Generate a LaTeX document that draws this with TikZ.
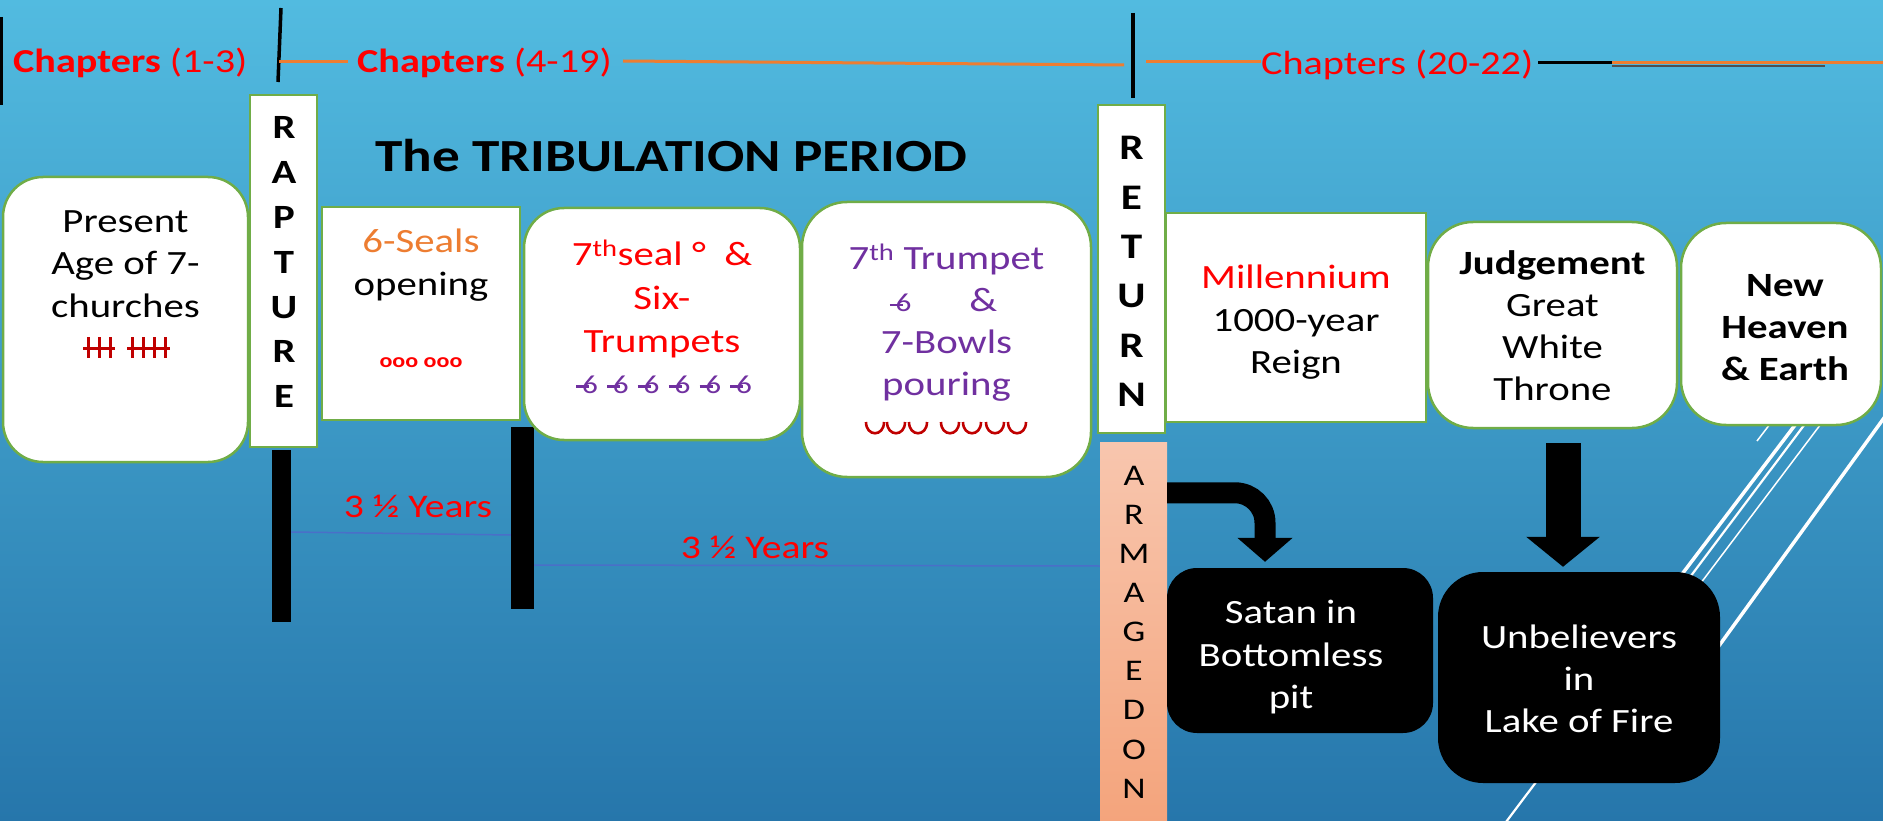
\documentclass[tikz,border=0pt]{standalone}
\usepackage{fontspec}
\setmainfont{Carlito}[FakeStretch=1.2]
\usetikzlibrary{arrows.meta}
\definecolor{bgtop}{HTML}{52BBE0}
\definecolor{bgmid}{HTML}{3A9DCA}
\definecolor{bgbot}{HTML}{2676AB}
\definecolor{boxgreen}{HTML}{70AD47}
\definecolor{myred}{HTML}{FF0000}
\definecolor{darkred}{HTML}{C00000}
\definecolor{myorange}{HTML}{ED7D31}
\definecolor{mypurple}{HTML}{7030A0}
\definecolor{salmontop}{HTML}{F8C6AE}
\definecolor{salmonbot}{HTML}{F4A47C}
\definecolor{thinblue}{HTML}{4A6FC8}
\definecolor{greyline}{HTML}{505050}
\newcommand{\fsz}[2]{\fontsize{#1pt}{#2pt}\selectfont}
\newcommand{\trp}{\rlap{\kern-0.22em\rule[0.2em]{0.5em}{0.09em}}6}
\begin{document}
\begin{tikzpicture}[x=1pt,y=-1pt,
 box/.style={draw=boxgreen,line width=2.5pt,fill=white,inner sep=0pt},
 rbox/.style={box,rounded corners=#1},
 blk/.style={fill=black,inner sep=0pt,rounded corners=#1},
 txt/.style={align=center,inner sep=0pt,execute at begin node=\strut,execute at end node=\strut},
 lbl/.style={inner sep=0pt},
 barnode/.style={fill=black,inner sep=0pt},
 orl/.style={draw=myorange,line width=3pt},
 vline/.style={draw=black,line width=3.5pt},
 bluethin/.style={draw=thinblue,line width=1.5pt},
 wl/.style={draw=white,line width=#1},
 bigarrow/.style={draw=black,line width=#1},
 tally/.style={draw=darkred,line width=3pt},
]
\shade[top color=bgtop,middle color=bgmid,bottom color=bgbot] (0,0) rectangle (1883,821);
\useasboundingbox (0,0) rectangle (1883,821);

% decorative white diagonals
\draw[wl=1.5pt] (1770,424) -- (1757,441);
\draw[wl=3.5pt] (1814,400) -- (1670,590);
\draw[wl=2.2pt] (1823,400) -- (1500,830);
\draw[wl=1.5pt] (1839,400) -- (1688,600);
\draw[wl=3.5pt] (1897,400) -- (1687,690);

% black bars
\node[barnode,minimum width=19pt,minimum height=172pt] (bar1) at (281.5,536) {};
\node[barnode,minimum width=23pt,minimum height=182pt] (bar2) at (522.5,518) {};
\draw[bluethin] ([yshift=4pt]bar1.east) -- ([yshift=-17pt]bar2.west);

% top timeline
\coordinate (t1a) at (1.5,17); \coordinate (t1b) at (1.5,105);
\coordinate (t2a) at (281,8); \coordinate (t2b) at (278,82);
\coordinate (t3a) at (1133,13); \coordinate (t3b) at (1133,98);
\draw[vline,line width=3pt] (t1a) -- (t1b);
\draw[vline] (t2a) -- (t2b);
\draw[vline] (t3a) -- (t3b);
\node[lbl,anchor=base west,font=\fsz{33.5}{38},text=myred] (ch1) at (13,73) {\textbf{Chapters} (1-3)};
\node[lbl,anchor=base west,font=\fsz{33.5}{38},text=myred] (ch2) at (357,73) {\textbf{Chapters} (4-19)};
\node[lbl,anchor=base west,font=\fsz{33.5}{38},text=myred] (ch3) at (1261,75) {Chapters (20-22)};
\coordinate (o1a) at (279,62); \coordinate (o1b) at (348,62);
\coordinate (o2a) at (623,61); \coordinate (o2b) at (1124,65);
\coordinate (o3a) at (1146,62);
\coordinate (o4a) at (1538,63); \coordinate (o4b) at (1612,63);
\coordinate (o5b) at (1825,66.5); \coordinate (o6b) at (1883,62.5);
\draw[orl] (o1a) -- (o1b);
\draw[orl] (o2a) -- (o2b);
\draw[orl] (o3a) -- (ch3.west |- o3a);
\draw[draw=greyline,line width=2pt] (o4b |- o5b) -- (o5b);
\draw[orl] (o4b |- o6b) -- (o6b);
\draw[draw=black,line width=3pt] (o4a) -- (o4b);

% title
\node[lbl,anchor=base west,font=\bfseries\fsz{46}{50}] (title) at (375,172) {The TRIBULATION PERIOD};

% boxes
\node[rbox=40pt,minimum width=245pt,minimum height=285pt] (present) at (125.5,319.5) {};
\node[box,minimum width=67pt,minimum height=352pt] (rapture) at (283.5,271) {};
\node[box,minimum width=198pt,minimum height=213pt] (seals) at (421,313.5) {};
\node[rbox=40pt,minimum width=276pt,minimum height=232pt] (seal7) at (662,324) {};
\node[rbox=45pt,minimum width=289pt,minimum height=275pt] (trump7) at (946.5,339.5) {};
\node[box,minimum width=67pt,minimum height=328pt] (ret) at (1131.5,269) {};
\node[box,minimum width=260pt,minimum height=209pt] (mill) at (1296,317.5) {};
\node[rbox=45pt,minimum width=249pt,minimum height=206pt] (judge) at (1552.5,325) {};
\node[rbox=45pt,minimum width=200pt,minimum height=202pt] (newh) at (1781,324) {};
\node[top color=salmontop,bottom color=salmonbot,inner sep=0pt,minimum width=67pt,minimum height=379pt] (arm) at (1133.5,631.5) {};
\node[blk=30pt,minimum width=266pt,minimum height=165pt] (satan) at (1300,650.5) {};
\node[blk=45pt,minimum width=282pt,minimum height=211pt] (unb) at (1579,677.5) {};

\draw[bluethin] ([yshift=-47pt]bar2.east) -- ([yshift=65.5pt]arm.west);

% years
\node[lbl,anchor=base,font=\fsz{33}{38},text=myred] (yrs1) at (418,517) {3 ½ Years};
\node[lbl,anchor=base,font=\fsz{33}{38},text=myred] (yrs2) at (755,558) {3 ½ Years};

% texts
\node[txt,font=\fsz{34}{42.5}] (presentT) at (125.5,270) {Present\\Age of 7-\\churches};
\draw[tally] (83,348) -- (115,348);
\foreach \x in {88,99,110} \draw[tally] (\x,337) -- (\x,358);
\draw[tally] (127,348) -- (170,348);
\foreach \x in {132,143,154,165} \draw[tally] (\x,337) -- (\x,358);

\node[txt,font=\bfseries\fsz{34}{44.8}] (rapT) at (284,269) {R\\A\\P\\T\\U\\R\\E};
\node[txt,font=\fsz{34}{43}] (sealsT) at (421,269) {\textcolor{myorange}{6-Seals}\\opening};
\node[lbl,anchor=base,font=\bfseries\fsz{20}{24},text=myred] (oooT) at (421,367) {ooo ooo};

\node[txt,font=\fsz{34}{43.5},text=myred] (seal7T) at (662,303) {7\textsuperscript{th}seal ° \ \&\\Six-\\Trumpets};
\node[lbl,anchor=base,font=\fsz{26}{30},text=mypurple] (trpT) at (667,393) {\trp\hspace{15pt}\trp\hspace{15pt}\trp\hspace{15pt}\trp\hspace{15pt}\trp\hspace{15pt}\trp};

\node[txt,font=\fsz{34}{42},text=mypurple] (trump7T) at (946.5,326) {7\textsuperscript{th} Trumpet\\{\fsz{26}{42}\trp}\hspace{58pt}\&\\7-Bowls\\pouring};
\foreach \c in {875,896,918,950,972,995,1017}
  \draw[tally,line width=2.6pt] (\c-9,422) .. controls (\c-9,437) and (\c+9,437) .. (\c+9,422);

\node[txt,font=\bfseries\fsz{36}{49.4}] (retT) at (1131.5,279) {R\\E\\T\\U\\R\\N};
\node[txt,font=\fsz{34}{42.5}] (millT) at (1296,326) {\textcolor{myred}{Millennium}\\1000-year\\Reign};
\node[txt,font=\fsz{34}{42}] (judgeT) at (1552.5,332) {\textbf{Judgement}\\Great\\White\\Throne};
\node[txt,font=\bfseries\fsz{34}{42}] (newhT) at (1785,334) {New\\Heaven\\\& Earth};
\node[txt,font=\fsz{30}{39.1}] (armT) at (1134,638) {A\\R\\M\\A\\G\\E\\D\\O\\N};
\node[txt,font=\fsz{34}{42.5},text=white] (satanT) at (1291,661) {Satan in\\Bottomless\\pit};
\node[txt,font=\fsz{34}{42},text=white] (unbT) at (1579,685) {Unbelievers\\in\\Lake of Fire};

% arrows
\draw[bigarrow=21pt,rounded corners=30pt,-{Triangle[width=54pt,length=24pt]}] ([yshift=-51pt]arm.north east) -| ([xshift=-35pt,yshift=6pt]satan.north);
\draw[bigarrow=35pt,-{Triangle[width=72pt,length=30pt]}] ([xshift=10.5pt,yshift=-14pt]judge.south) -- ([xshift=-16pt,yshift=5pt]unb.north);
\end{tikzpicture}
\end{document}
